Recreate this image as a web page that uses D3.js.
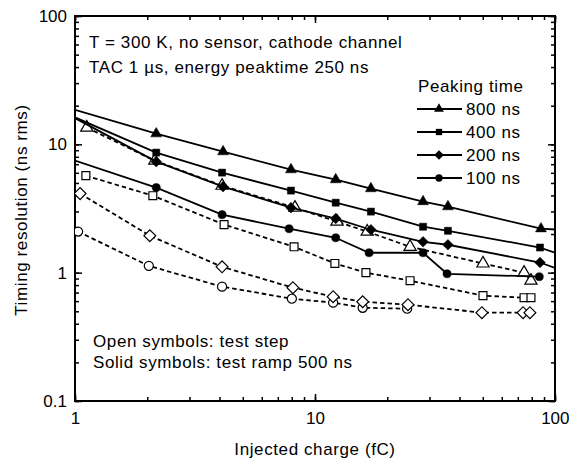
<!DOCTYPE html>
<html>
<head>
<meta charset="utf-8">
<script src="https://cdn.jsdelivr.net/npm/d3@7"></script>
<style>
  body { margin: 0; background: #fff; }
  svg { display: block; }
  text { font-family: "Liberation Sans", Arial, sans-serif; fill: #000; letter-spacing: 0.6px; }
  .axis path { display: none; }
  .axis line { stroke: #000; stroke-width: 1.5; }
  .axis text { font-size: 17px; letter-spacing: 0; font-family: "Liberation Sans", Arial, sans-serif; }
</style>
</head>
<body>
<div id="chart"></div>
<script>
// solid symbols: test ramp 500 ns  [charge fC, resolution ns rms]
var ramp800 = [[1, 18.6], [2.18, 12.1], [4.14, 8.77], [7.94, 6.35], [12.2, 5.31], [17.1, 4.52], [28.2, 3.58], [35.8, 3.27], [87.4, 2.2], [100, 2.17]];
var ramp400 = [[1, 16.2], [2.18, 8.62], [4.1, 6.02], [7.94, 4.36], [12.2, 3.51], [17.1, 2.99], [28.2, 2.28], [35.8, 2.12], [86.6, 1.57], [100, 1.43]];
var ramp200 = [[1, 16.0], [2.18, 7.33], [4.14, 4.68], [7.94, 3.21], [12.2, 2.64], [17.1, 2.16], [28.2, 1.74], [35.8, 1.65], [86.6, 1.2], [100, 1.09]];
var ramp100 = [[1, 7.46], [2.18, 4.6], [4.1, 2.83], [7.8, 2.2], [12.2, 1.87], [16.8, 1.43], [28.2, 1.43], [35.5, 0.98], [86, 0.93]];

// open symbols: test step
var step800 = [[1.12, 13.5], [2.15, 7.46], [4.1, 4.76], [8.25, 3.21], [12.35, 2.5], [16.5, 2.09], [24.9, 1.59], [50.1, 1.18], [74.3, 1.0], [79.4, 0.866]];
var step400 = [[1.11, 5.7], [2.11, 3.98], [4.18, 2.37], [8.18, 1.59], [12.1, 1.18], [16.3, 1.0], [24.9, 0.866], [50.1, 0.662], [74.3, 0.638], [79.4, 0.638]];
var step200 = [[1.05, 4.13], [2.05, 1.94], [4.1, 1.11], [8.09, 0.764], [11.9, 0.65], [15.8, 0.594], [24.4, 0.563], [49.6, 0.488], [73.6, 0.488], [78.6, 0.488]];
var step100 = [[1.03, 2.09], [2.03, 1.13], [4.1, 0.778], [8.01, 0.627], [11.9, 0.584], [15.8, 0.533], [24.2, 0.524]];

var peakingTimes = ['800 ns', '400 ns', '200 ns', '100 ns'];
var xTicks = [1, 10, 100];
var yTicks = [0.1, 1, 10, 100];
var infoLines = ['T = 300 K, no sensor, cathode channel', 'TAC 1 \u00b5s, energy peaktime 250 ns'];
var noteLines = ['Open symbols: test step', 'Solid symbols: test ramp 500 ns'];

var W = 569, H = 465;
var margin = {top: 16, right: 14, bottom: 64, left: 75};
var width = W - margin.left - margin.right,
    height = H - margin.top - margin.bottom;

var svg = d3.select('#chart').append('svg')
    .attr('width', W)
    .attr('height', H)
  .append('g')
    .attr('transform', `translate(${margin.left},${margin.top})`);

var x = d3.scaleLog().domain([1, 100]).range([0, width]);
var y = d3.scaleLog().domain([0.1, 100]).range([height, 0]);

svg.append('clipPath').attr('id', 'plot-clip')
  .append('rect').attr('width', width).attr('height', height);

// minor ticks on all four sides
var minorX = x.ticks(), minorY = y.ticks();
function minor(axis, vals) { return axis.tickValues(vals).tickSize(-4).tickFormat(''); }
svg.append('g').attr('class', 'axis').attr('transform', `translate(0,${height})`).call(minor(d3.axisBottom(x), minorX));
svg.append('g').attr('class', 'axis').call(minor(d3.axisTop(x), minorX));
svg.append('g').attr('class', 'axis').call(minor(d3.axisLeft(y), minorY));
svg.append('g').attr('class', 'axis').attr('transform', `translate(${width},0)`).call(minor(d3.axisRight(y), minorY));

// major ticks with labels
var fmt = d => String(d);
var xAxisG = svg.append('g').attr('class', 'axis').attr('transform', `translate(0,${height})`)
    .call(d3.axisBottom(x).tickValues(xTicks).tickSize(-7).tickPadding(11).tickFormat(fmt));
// keep the last label inside the page
xAxisG.selectAll('.tick text').filter(d => d === 100).attr('text-anchor', 'end').attr('x', 14);
svg.append('g').attr('class', 'axis')
    .call(d3.axisTop(x).tickValues(xTicks).tickSize(-7).tickFormat(''));
svg.append('g').attr('class', 'axis')
    .call(d3.axisLeft(y).tickValues(yTicks).tickSize(-7).tickPadding(8).tickFormat(fmt));
svg.append('g').attr('class', 'axis').attr('transform', `translate(${width},0)`)
    .call(d3.axisRight(y).tickValues(yTicks).tickSize(-7).tickFormat(''));

svg.append('rect')
    .attr('width', width).attr('height', height)
    .attr('fill', 'none').attr('stroke', '#000').attr('stroke-width', 2);

// symbols
var shapes = {
  triangle: {type: d3.symbolTriangle, size: 52, rot: 0},
  square: {type: d3.symbolSquare, size: 50, rot: 0},
  diamond: {type: d3.symbolSquare, size: 56, rot: 45},
  circle: {type: d3.symbolCircle, size: 52, rot: 0}
};
var shapeOrder = ['triangle', 'square', 'diamond', 'circle'];

var line = d3.line().x(d => x(d[0])).y(d => y(d[1]));
var plot = svg.append('g').attr('clip-path', 'url(#plot-clip)');

function drawSeries(data, shape, open) {
  var s = shapes[shape];
  plot.append('path')
      .attr('d', line(data))
      .attr('fill', 'none')
      .attr('stroke', '#000')
      .attr('stroke-width', 1.8)
      .attr('stroke-dasharray', open ? '4.5,3' : null);
  plot.append('g').selectAll('path')
      .data(data.filter(d => d[0] > 1 && d[0] < 100))
      .join('path')
      .attr('d', d3.symbol().type(s.type).size(open ? s.size * 1.25 : s.size))
      .attr('transform', d => `translate(${x(d[0])},${y(d[1])}) rotate(${s.rot})`)
      .attr('fill', open ? '#fff' : '#000')
      .attr('stroke', '#000')
      .attr('stroke-width', open ? 1.2 : 0.5);
}

[step100, step200, step400, step800].forEach((d, i) => drawSeries(d, shapeOrder[3 - i], true));
[ramp100, ramp200, ramp400, ramp800].forEach((d, i) => drawSeries(d, shapeOrder[3 - i], false));

// annotations
svg.append('g').selectAll('text')
    .data(infoLines).join('text')
    .attr('x', 89 - margin.left)
    .attr('y', (d, i) => 48 - margin.top + i * 25)
    .style('font-size', '17px')
    .text(d => d);

svg.append('g').selectAll('text')
    .data(noteLines).join('text')
    .attr('x', 93 - margin.left)
    .attr('y', (d, i) => 347 - margin.top + i * 21)
    .style('font-size', '17px')
    .text(d => d);

// legend
var legend = svg.append('g').attr('transform', `translate(${417 - margin.left},${92 - margin.top})`);
legend.append('text').attr('x', 1).attr('y', 0).style('font-size', '17px').text('Peaking time');
var items = legend.selectAll('g.item').data(peakingTimes).join('g')
    .attr('class', 'item')
    .attr('transform', (d, i) => `translate(0,${17 + i * 23})`);
items.append('line').attr('x1', 0).attr('x2', 45).attr('y1', 0).attr('y2', 0)
    .attr('stroke', '#000').attr('stroke-width', 1.8);
items.append('path')
    .attr('d', (d, i) => d3.symbol().type(shapes[shapeOrder[i]].type).size(shapes[shapeOrder[i]].size * 0.8)())
    .attr('transform', (d, i) => `translate(22,0) rotate(${shapes[shapeOrder[i]].rot})`)
    .attr('fill', '#000');
items.append('text').attr('x', 49).attr('y', 6).style('font-size', '17px').text(d => d);

// axis titles
svg.append('text')
    .attr('x', width / 2).attr('y', 455 - margin.top)
    .attr('text-anchor', 'middle')
    .style('font-size', '17px')
    .text('Injected charge (fC)');
svg.append('text')
    .attr('transform', `translate(${27 - margin.left},${210 - margin.top}) rotate(-90)`)
    .attr('text-anchor', 'middle')
    .style('font-size', '17px')
    .text('Timing resolution (ns rms)');
</script>
</body>
</html>
